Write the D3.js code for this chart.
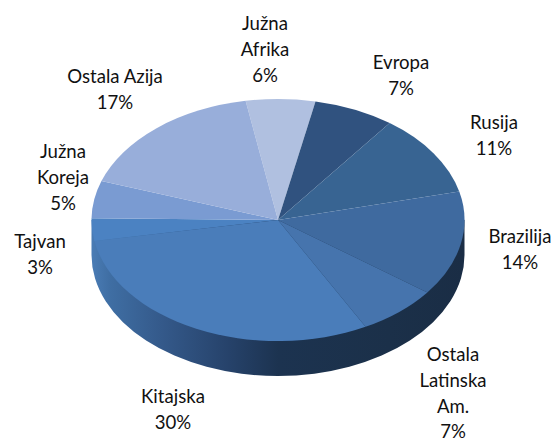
<!DOCTYPE html>
<html>
<head>
<meta charset="utf-8">
<script src="https://cdn.jsdelivr.net/npm/d3@7"></script>
<style>
  html, body { margin: 0; padding: 0; background: #fff; overflow: hidden; }
  text { font-family: Lato, sans-serif; font-size: 18.6px; fill: #111; }
</style>
</head>
<body>
<svg width="556" height="438" style="display:block"></svg>
<script>
// Data, clockwise from the top
const regions = ["Južna Afrika", "Evropa", "Rusija", "Brazilija", "Ostala Latinska Am.", "Kitajska", "Tajvan", "Južna Koreja", "Ostala Azija"];
const shares = [6, 7, 11, 14, 7, 30, 3, 5, 17];
const labelLines = [["Južna", "Afrika"], ["Evropa"], ["Rusija"], ["Brazilija"], ["Ostala", "Latinska", "Am."], ["Kitajska"], ["Tajvan"], ["Južna", "Koreja"], ["Ostala Azija"]];
const sliceColors = ["#b0c0e0", "#30527f", "#386492", "#3f6a9f", "#4674ad", "#4a7dba", "#4b82c2", "#7a9bd2", "#98aeda"];

// layout
const cx = 278, cy = 220, rx = 186.5, ry = 121, depth = 35;
const labelCenterX = [265, 401, 494, 520, 453, 173, 40, 63, 115];
const labelFirstY = [30, 69, 129, 243, 361, 403, 248, 158, 83];
const lineHeight = 25.8;

const svg = d3.select("svg");

// Horizontal gradient for the rim
const defs = svg.append("defs");
const rimGrad = defs.append("linearGradient")
    .attr("id", "rim")
    .attr("x1", "0").attr("x2", "1").attr("y1", "0").attr("y2", "0");
[[0, "#4a7cb5"], [0.05, "#3f6ea3"], [0.19, "#34598a"], [0.37, "#26426a"], [0.5, "#1c3350"], [0.8, "#1b3049"], [1, "#1a2d45"]]
    .forEach(s => rimGrad.append("stop").attr("offset", s[0]).attr("stop-color", s[1]));

// Rim: lower half of the ellipse pushed down by depth
svg.append("path")
    .attr("fill", "url(#rim)")
    .attr("d", `M${cx - rx},${cy} L${cx - rx},${cy + depth} A${rx},${ry} 0 0 0 ${cx + rx},${cy + depth} L${cx + rx},${cy} Z`);

// Top face: a normal pie squashed into an ellipse
const pie = d3.pie()
    .sort(null)
    .startAngle(-10 * Math.PI / 180)
    .endAngle(350 * Math.PI / 180);

const arc = d3.arc().innerRadius(0).outerRadius(rx);

svg.append("g")
    .attr("transform", `translate(${cx},${cy}) scale(1,${ry / rx})`)
    .selectAll("path")
    .data(pie(shares))
    .enter().append("path")
    .attr("d", arc)
    .attr("fill", (d, i) => sliceColors[i]);

// Labels
const labels = svg.selectAll(".label")
    .data(regions)
    .enter().append("text")
    .attr("class", "label")
    .attr("text-anchor", "middle");

labels.each(function(d, i) {
    const t = d3.select(this);
    const lines = labelLines[i].concat(shares[i] + "%");
    lines.forEach((line, j) => {
        t.append("tspan")
            .attr("x", labelCenterX[i])
            .attr("y", labelFirstY[i] + j * lineHeight)
            .text(line);
    });
});
</script>
</body>
</html>
